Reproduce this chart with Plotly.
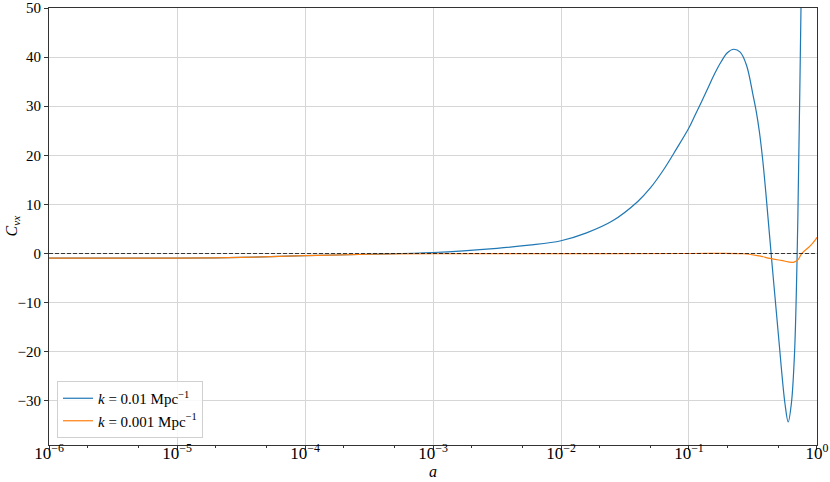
import plotly.graph_objects as go

# log10(a) sample positions and values
blue_loga = [-6.0, -5.5, -5.0, -4.5, -4.0, -3.5, -3.0, -2.5, -2.25, -2.0, -1.8, -1.6, -1.4,
             -1.3, -1.2, -1.1, -1.0, -0.95, -0.90, -0.85, -0.80, -0.75, -0.70, -0.65, -0.60,
             -0.55, -0.50, -0.475, -0.45, -0.425, -0.40, -0.35, -0.30, -0.25, -0.225, -0.20,
             -0.175, -0.15, -0.125, -0.10]
blue_vals = [-0.95, -0.95, -0.95, -0.8, -0.45, -0.15, 0.2, 1.06, 1.7, 2.6, 4.2, 6.6, 10.6,
             13.4, 17.0, 21.2, 25.6, 28.3, 31.0, 33.8, 36.6, 39.0, 40.9, 41.6, 41.0,
             38.3, 32.3, 29.0, 24.8, 19.3, 12.5, -2.5, -17.0, -30.6, -34.3, -30.5,
             -20.0, 6.5, 50.0, 90.0]

orange_loga = [-6.0, -5.5, -5.0, -4.5, -4.0, -3.5, -3.0, -2.0, -1.0, -0.576, -0.45, -0.367,
               -0.28, -0.185, -0.146, -0.12, -0.055, -0.01, 0.0]
orange_vals = [-0.95, -0.95, -0.95, -0.8, -0.45, -0.15, -0.05, -0.02, 0.0, -0.05, -0.5, -1.0,
               -1.4, -1.8, -1.2, 0.0, 1.5, 2.9, 3.3]

x_tickvals = [1e-6, 1e-5, 1e-4, 1e-3, 1e-2, 1e-1, 1]
x_ticktext = ["10<sup>−6</sup>", "10<sup>−5</sup>", "10<sup>−4</sup>", "10<sup>−3</sup>",
              "10<sup>−2</sup>", "10<sup>−1</sup>", "10<sup>0</sup>"]
y_tickvals = [-30, -20, -10, 0, 10, 20, 30, 40, 50]
y_ticktext = ["−30", "−20", "−10", "0", "10", "20", "30", "40", "50"]

blue_a = [10 ** v for v in blue_loga]
orange_a = [10 ** v for v in orange_loga]

label_blue = "<i>k</i> = 0.01 Mpc<sup>−1</sup>"
label_orange = "<i>k</i> = 0.001 Mpc<sup>−1</sup>"

font_family = "Liberation Serif, DejaVu Serif, serif"

fig = go.Figure()
fig.add_trace(go.Scatter(x=blue_a, y=blue_vals, mode="lines", name=label_blue,
                         line=dict(color="#1f77b4", width=1.2, shape="spline", smoothing=1.0)))
fig.add_trace(go.Scatter(x=orange_a, y=orange_vals, mode="lines", name=label_orange,
                         line=dict(color="#ff7f0e", width=1.2, shape="spline", smoothing=1.0)))
fig.add_hline(y=0, line_dash="4px,2px", line_color="rgba(0,0,0,0.75)", line_width=1)

fig.update_layout(
    width=830, height=482,
    margin=dict(l=49, r=13, t=8, b=37, autoexpand=False),
    paper_bgcolor="white", plot_bgcolor="white",
    font=dict(family=font_family, size=15, color="black"),
    legend=dict(x=0.0104, y=0.016, xanchor="left", yanchor="bottom",
                bgcolor="rgba(255,255,255,0.85)", bordercolor="#d0d0d0", borderwidth=1,
                font=dict(family=font_family, size=15)),
    showlegend=True,
    annotations=[
        dict(text="<i>a</i>", xref="paper", yref="paper", x=0.5, y=0,
             xanchor="center", yanchor="middle", yshift=-26, showarrow=False,
             font=dict(family=font_family, size=16)),
        dict(text="<i>C</i><sub><i>vx</i></sub>", xref="paper", yref="paper", x=0, y=0.5,
             xanchor="center", yanchor="middle", xshift=-37, textangle=-90, showarrow=False,
             font=dict(family=font_family, size=16)),
    ],
)
fig.update_xaxes(
    type="log", range=[-6.0001, 0.0001],
    tickvals=x_tickvals, ticktext=x_ticktext, automargin=False,
    tickfont=dict(size=17), ticklabelstandoff=-11,
    showgrid=True, gridcolor="#d6d6d6", gridwidth=1,
    showline=True, linecolor="#333333", linewidth=1, mirror=True,
    ticks="outside", ticklen=4, tickcolor="#333333",
    minor=dict(ticks="outside", ticklen=2, tickcolor="#333333", showgrid=False),
    zeroline=False,
)
fig.update_yaxes(
    range=[-39, 50],
    tickvals=y_tickvals, ticktext=y_ticktext,
    automargin=False,
    showgrid=True, gridcolor="#d6d6d6", gridwidth=1,
    showline=True, linecolor="#333333", linewidth=1, mirror=True,
    ticks="outside", ticklen=4, tickcolor="#333333",
    zeroline=False,
)

fig.write_html("out.html", config={"displayModeBar": False},
               post_script="document.body.style.margin='0px';document.body.style.padding='0px';")
